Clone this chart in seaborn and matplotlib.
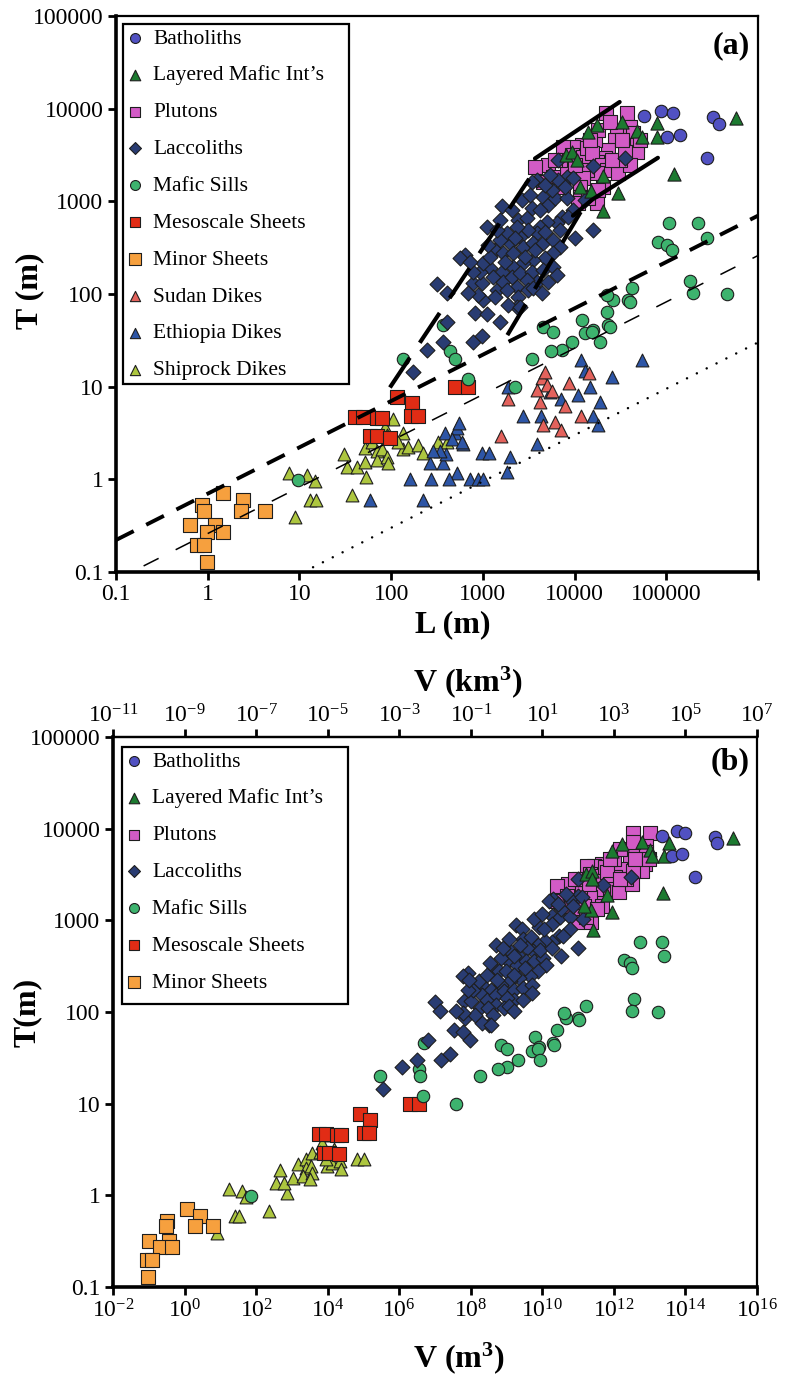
import numpy as np
import pandas as pd
import matplotlib
matplotlib.use("Agg")
import matplotlib.pyplot as plt
from matplotlib.patches import Rectangle
import seaborn as sns

# ---------------- data: L (m) and T (m) ----------------
bath_L = [57300, 87700, 118600, 102000, 141000, 279000, 324000, 377000]
bath_T = [8400, 9500, 9050, 4990, 5240, 2960, 8200, 6900]

lmi_L = [17600, 14000, 33000, 48000, 54500, 79400, 79400, 577000, 122000, 8070,
         9400, 10600, 20500, 15100, 29800, 20500, 11500]
lmi_T = [6720, 5650, 7240, 5780, 4990, 7060, 4990, 8000, 1990, 3180,
         3430, 2810, 1890, 1300, 1240, 790, 1440]

plut_L = [22100, 37300, 29100, 40300, 43400, 48000, 48000, 27700, 23200, 21500,
          17600, 16700, 18000, 12100, 9630, 7500, 9400, 12400, 13700, 15500,
          20000, 22600, 29800, 40300, 31300, 17600, 13700, 12400, 8280, 5140,
          3710, 5830, 4530, 7500, 11500, 11500, 10900, 17600, 14000, 20500,
          18000, 25600, 35600, 33000, 51800, 6950, 14800, 24400, 10100, 6130]
plut_T = [9060, 9060, 5650, 6390, 5500, 4080, 3430, 4620, 3610, 2960,
          2680, 4620, 5930, 4080, 3890, 3890, 3190, 3030, 3790, 3350,
          2480, 2190, 2040, 2480, 2810, 2040, 2190, 1800, 2040, 2480,
          2360, 1840, 1630, 1440, 1440, 1120, 970, 970, 1090, 1440,
          1330, 2810, 3430, 4620, 4620, 2810, 4620, 7240, 2480, 2810]

lacc_L = [1620, 1110, 640, 317, 407, 782, 980, 1000, 822, 1110,
          1430, 1200, 1360, 1980, 2080, 2420, 3030, 4530, 5140, 6130,
          5690, 8280, 7310, 6440, 5010, 4210, 3900, 3110, 2550, 2360,
          1840, 1540, 1660, 2130, 2740, 3530, 4530, 5830, 6950, 5830,
          4770, 3530, 2740, 2130, 1620, 1290, 1660, 2080, 2550, 3440,
          4530, 5830, 6440, 3900, 3030, 2360, 1840, 2420, 3110, 3530,
          2360, 4420, 1880, 932, 782, 1000, 1200, 1430, 1540, 3440,
          3900, 8280, 6610, 9630, 3440, 9630, 8490, 10100, 1540, 2550,
          6610, 15900, 35600, 15900, 407, 368, 246, 174, 782, 980,
          564, 725, 4210, 4770, 2880, 1750, 2240, 3710, 1360, 887,
          5140, 7870, 4770, 13000, 2670, 3270, 5400, 6950, 1140, 690]
lacc_T = [898, 532, 265, 129, 103, 132, 132, 87, 63, 61,
          111, 193, 300, 357, 811, 633, 666, 1120, 920, 1090,
          1330, 1090, 682, 587, 602, 532, 458, 494, 415, 532,
          458, 385, 279, 279, 324, 357, 357, 385, 324, 279,
          246, 234, 217, 197, 174, 153, 135, 153, 170, 174,
          183, 197, 161, 135, 142, 119, 111, 93, 111, 116,
          73, 103, 76, 174, 174, 217, 252, 494, 633, 853,
          1710, 1840, 1710, 1800, 1630, 811, 682, 406, 50, 73,
          2810, 2420, 2960, 494, 50, 30, 25, 14.5, 30, 35,
          246, 223, 811, 470, 252, 223, 406, 300, 93, 98,
          135, 1440, 1510, 1040, 1040, 1180, 1940, 494, 340, 103]

sill_L = [107000, 222000, 279000, 81500, 102000, 116000, 182000, 196000, 460000, 42400,
          38300, 26300, 22600, 22600, 23200, 12100, 15900, 4530, 5830, 13000,
          15500, 24400, 19000, 9400, 7310, 5550, 3440, 2240, 368, 437,
          498, 690, 135, 9.7, 40300]
sill_T = [587, 587, 406, 366, 340, 300, 139, 103, 100, 116,
          87, 87, 98, 64, 46, 53, 41, 44, 39, 38,
          39, 44, 30, 30, 25, 24, 20, 10, 46, 24,
          20, 12, 20, 0.98, 82]

meso_L = [116, 169, 40, 49, 70, 80, 166, 196, 59, 70, 97, 500, 690]
meso_T = [7.8, 6.7, 4.7, 4.7, 4.6, 4.6, 4.8, 4.8, 2.9, 2.9, 2.8, 10, 9.8]

minor_L = [0.87, 0.91, 0.64, 1.2, 1.45, 2.4, 2.3, 4.2, 0.98, 1.45, 0.76, 0.91, 0.98]
minor_T = [0.53, 0.46, 0.32, 0.32, 0.71, 0.60, 0.46, 0.46, 0.27, 0.27, 0.195, 0.195, 0.128]

sudan_L = [4420, 5010, 5690, 4210, 7870, 4530, 6130, 7130, 11800, 8710, 14400, 1880, 1580, 4770, 3900]
sudan_T = [12.4, 10.5, 9.0, 6.9, 6.2, 3.9, 4.2, 3.4, 4.8, 11.0, 14.1, 7.4, 2.9, 14.5, 9.2]

eth_L = [54500, 11800, 13000, 25600, 14700, 10900, 7130, 5400, 19000, 2740,
         4320, 15900, 18000, 3900, 1980, 980, 1170, 725, 887, 1000,
         524, 428, 272, 161, 223, 265, 368, 396, 341, 286,
         605, 498, 524, 550, 387, 461, 1880, 59, 593, 1840]
eth_T = [19.4, 19.4, 14.8, 12.8, 10, 8.2, 7.4, 8.8, 6.9, 4.8,
         4.8, 4.8, 3.9, 2.4, 1.75, 1.93, 1.93, 1.0, 1.0, 1.0,
         1.17, 1.0, 1.0, 1.0, 0.6, 1.5, 1.5, 1.88, 2.0, 2.0,
         2.4, 3.2, 3.6, 4.1, 3.2, 2.7, 9.8, 0.6, 2.5, 1.2]

ship_L = [7.7, 12.1, 14.8, 13.1, 15.1, 9.0, 37, 53, 31, 33,
          42, 52, 52, 62, 70, 70, 70, 86, 105, 90,
          80, 90, 93, 135, 135, 153, 196, 223, 324, 407, 119]
ship_T = [1.17, 1.12, 0.95, 0.60, 0.60, 0.39, 0.68, 1.06, 1.88, 1.36,
          1.36, 2.2, 1.54, 2.5, 2.9, 2.0, 1.62, 3.7, 4.5, 3.0,
          2.1, 1.75, 1.5, 3.2, 2.1, 2.24, 2.35, 1.93, 2.5, 2.5, 2.5]

# legend order
groups = ["Batholiths", "Layered Mafic Int\u2019s", "Plutons", "Laccoliths", "Mafic Sills",
          "Mesoscale Sheets", "Minor Sheets", "Sudan Dikes", "Ethiopia Dikes", "Shiprock Dikes"]
group_L = [bath_L, lmi_L, plut_L, lacc_L, sill_L, meso_L, minor_L, sudan_L, eth_L, ship_L]
group_T = [bath_T, lmi_T, plut_T, lacc_T, sill_T, meso_T, minor_T, sudan_T, eth_T, ship_T]
# volume shape factor (V = k L^2 T) used in panel (b)
shape_k = [np.pi / 4] * 9 + [0.25]
in_panel_b = [True, True, True, True, True, True, True, False, False, True]
in_legend_b = [True, True, True, True, True, True, True, False, False, False]

colors = ["#5151c2", "#1c7a30", "#d25bc6", "#293c72", "#3db36e",
          "#e12c15", "#f6a03e", "#e3625c", "#2d55a6", "#adc63f"]
markers = ["o", "^", "s", "D", "o", "s", "s", "^", "^", "^"]
sizes = [80, 90, 95, 58, 80, 95, 100, 85, 85, 85]
draw_order = [9, 8, 7, 6, 5, 4, 2, 3, 1, 0]

# reference lines T = c * L^0.5
guide_c = [0.7, 0.26, 0.03]
guide_Lmin = [0.1, 0.2, 11.0]
guide_Lmax = 1e6
# envelope segments around laccolith/pluton field
env_up_dash_L, env_up_dash_T = [97, 3500], [9.8, 2000]
env_up_solid_L, env_up_solid_T = [3700, 31000], [2900, 11800]
env_lo_dash_L, env_lo_dash_T = [1850, 13500], [36, 980]
env_lo_solid_L, env_lo_solid_T = [9600, 15500, 81000], [700, 1040, 2950]

frames = []
for g, Ls, Ts, k in zip(groups, group_L, group_T, shape_k):
    d = pd.DataFrame({"L": Ls, "T": Ts})
    d["group"] = g
    d["V"] = k * d["L"] ** 2 * d["T"]
    frames.append(d)
df = pd.concat(frames, ignore_index=True)

# ---------------- style ----------------
sns.set_style("ticks")
plt.rcParams.update({
    "font.family": ["Liberation Serif", "DejaVu Serif"],
    "mathtext.fontset": "custom",
    "mathtext.rm": "Liberation Serif",
    "mathtext.bf": "Liberation Serif:bold",
    "mathtext.default": "rm",
    "axes.edgecolor": "black",
    "xtick.color": "black",
    "ytick.color": "black",
    "text.color": "black",
    "axes.labelcolor": "black",
})

W, H = 798, 1379
fig = plt.figure(figsize=(W / 100, H / 100), dpi=100)


def fx(px):
    return px / W


def fy(py):
    return 1 - py / H


axA = fig.add_axes([fx(116), fy(572), (758 - 116) / W, (572 - 16) / H])
axB = fig.add_axes([fx(113), fy(1287), (757 - 113) / W, (1287 - 737) / H])


def style(ax):
    ax.set_xscale("log")
    ax.set_yscale("log")
    for s in ["left", "bottom"]:
        ax.spines[s].set_linewidth(2.6)
    for s in ["top", "right"]:
        ax.spines[s].set_linewidth(1.6)
        ax.spines[s].set_visible(True)
    ax.minorticks_off()
    ax.tick_params(which="major", direction="out", length=6, width=2.0,
                   labelsize=17, pad=3, top=False, right=False)
    ax.grid(False)


def scatter_groups(ax, xcol, panel_b):
    handles = {}
    for i in draw_order:
        if panel_b and not in_panel_b[i]:
            continue
        sub = df[df["group"] == groups[i]]
        lab = groups[i] if (not panel_b or in_legend_b[i]) else "_nolegend_"
        sns.scatterplot(data=sub, x=xcol, y="T", ax=ax, marker=markers[i], s=sizes[i],
                        color=colors[i], edgecolor="#1e1e1e", linewidth=0.8,
                        label=lab, legend=False, zorder=3)
        handles[i] = ax.collections[-1]
    return handles


# ---------------- panel (a) ----------------
hA = scatter_groups(axA, "L", False)
style(axA)
axA.set_xlim(0.1, 1e6)
axA.set_ylim(0.1, 1e5)
xt = [0.1, 1, 10, 100, 1000, 10000, 100000, 1e6]
axA.set_xticks(xt, ["0.1", "1", "10", "100", "1000", "10000", "100000", ""])
yt = [0.1, 1, 10, 100, 1000, 10000, 100000]
axA.set_yticks(yt, ["0.1", "1", "10", "100", "1000", "10000", "100000"])
axA.set_xlabel("")
axA.set_ylabel("")

guide_styles = [dict(lw=2.8, ls=(0, (5.1, 3.6))),
                dict(lw=1.1, ls=(0, (11, 12.5))),
                dict(lw=1.8, ls=(0, (0.01, 4.4)), dash_capstyle="round")]
for c, lmin, st in zip(guide_c, guide_Lmin, guide_styles):
    Lg = np.array([lmin, guide_Lmax])
    axA.plot(Lg, c * np.sqrt(Lg), color="black", zorder=5, clip_on=True, **st)

env_dash = dict(color="black", lw=3.0, ls=(0, (8.6, 4.3)), zorder=5)
env_solid = dict(color="black", lw=3.0, ls="-", zorder=5, solid_capstyle="round")
axA.plot(env_up_dash_L, env_up_dash_T, **env_dash)
axA.plot(env_up_solid_L, env_up_solid_T, **env_solid)
axA.plot(env_lo_dash_L, env_lo_dash_T, **env_dash)
axA.plot(env_lo_solid_L, env_lo_solid_T, **env_solid)

axA.text(0.9875, 0.946, "(a)", transform=axA.transAxes, ha="right", va="center",
         fontsize=23, fontweight="bold")

leg_kw = dict(loc="upper left", borderaxespad=0, borderpad=0.3, handlelength=0.5,
              handletextpad=0.6, labelspacing=0.78, fontsize=15.5, frameon=False,
              markerscale=0.8, scatterpoints=1)
legA = axA.legend([hA[i] for i in range(10)], groups,
                  bbox_to_anchor=((123 - 116) / 642, (572 - 22) / 556), **leg_kw)
legA.set_zorder(10)
axA.add_patch(Rectangle((fx(123), fy(384)), (349 - 123) / W, (384 - 24) / H,
                        transform=fig.transFigure, fill=False, lw=1.6,
                        edgecolor="black", zorder=9))

fig.text(fx(30), fy(291), "T (m)", rotation=90, ha="center", va="center",
         fontsize=23, fontweight="bold")
fig.text(fx(453), fy(625), "L (m)", ha="center", va="center",
         fontsize=23, fontweight="bold")

# ---------------- panel (b) ----------------
hB = scatter_groups(axB, "V", True)
style(axB)
axB.set_xlim(1e-2, 1e16)
axB.set_ylim(0.1, 1e5)
xe = list(range(-2, 17, 2))
axB.set_xticks([10.0 ** e for e in xe], [f"$10^{{{e}}}$" for e in xe])
axB.set_yticks(yt, ["0.1", "1", "10", "100", "1000", "10000", "100000"])
axB.set_xlabel("")
axB.set_ylabel("")

axT = axB.twiny()
axT.set_xscale("log")
axT.set_xlim(1e-11, 1e7)
te = list(range(-11, 8, 2))
axT.set_xticks([10.0 ** e for e in te], [f"$10^{{{e}}}$" for e in te])
axT.minorticks_off()
axT.tick_params(axis="x", which="major", direction="out", length=6, width=2.0,
                labelsize=17, pad=1, top=True, labeltop=True, bottom=False, labelbottom=False)
for s in ["left", "right", "bottom"]:
    axT.spines[s].set_visible(False)
axT.spines["top"].set_linewidth(1.6)

axB.text(0.989, 0.955, "(b)", transform=axB.transAxes, ha="right", va="center",
         fontsize=23, fontweight="bold")

legB = axB.legend([hB[i] for i in range(7)], groups[:7],
                  bbox_to_anchor=((122 - 113) / 644, (1287 - 745) / 550), **leg_kw)
legB.set_zorder(10)
axB.add_patch(Rectangle((fx(122), fy(1004)), (348 - 122) / W, (1004 - 747) / H,
                        transform=fig.transFigure, fill=False, lw=1.6,
                        edgecolor="black", zorder=9))

fig.text(fx(27), fy(1012), "T(m)", rotation=90, ha="center", va="center",
         fontsize=23, fontweight="bold")
fig.text(fx(459), fy(1358), "V (m$^{\\mathbf{3}}$)", ha="center", va="center",
         fontsize=23, fontweight="bold")
fig.text(fx(468), fy(682), "V (km$^{\\mathbf{3}}$)", ha="center", va="center",
         fontsize=23, fontweight="bold")

fig.savefig("out.png", dpi=100)
